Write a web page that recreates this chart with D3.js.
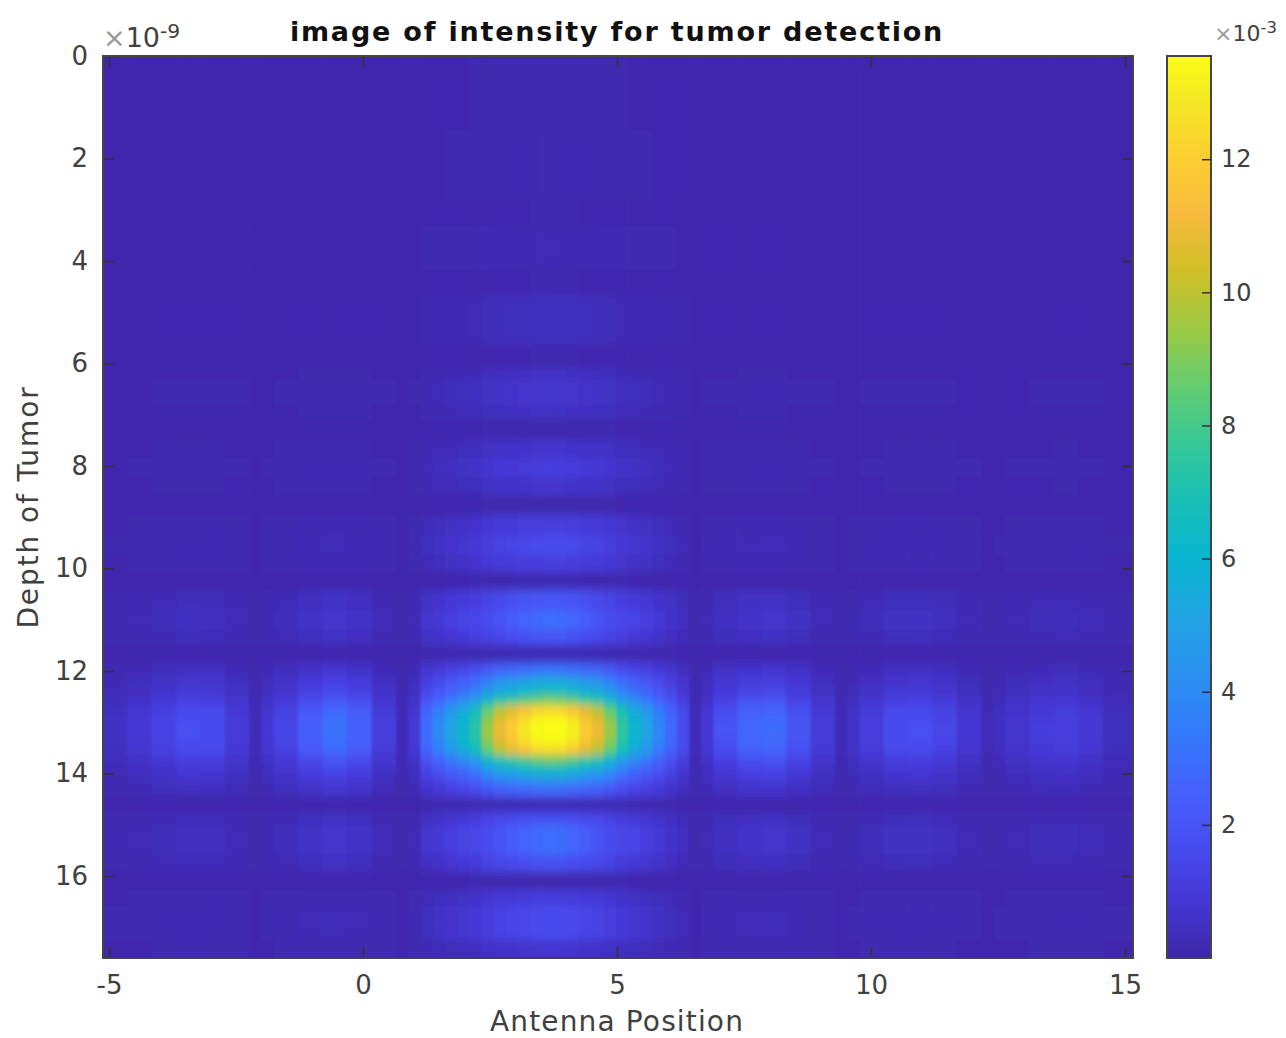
<!DOCTYPE html>
<html>
<head>
<meta charset="utf-8">
<script src="https://cdn.jsdelivr.net/npm/d3@7"></script>
<style>
  body { margin: 0; background: #fff; }
  text { font-family: "DejaVu Sans", sans-serif; fill: #404040; }
</style>
</head>
<body>
<div id="chart"></div>
<script>
// chart text and ticks
const titleText = 'image of intensity for tumor detection'
const xLabelText = 'Antenna Position'
const yLabelText = 'Depth of Tumor'
const xTicks = [-5, 0, 5, 10, 15]
const yTicks = [0, 2, 4, 6, 8, 10, 12, 14, 16]
const barTicks = [2, 4, 6, 8, 10, 12]

// cell edges, wide cells out on the sides and finer ones around the main spot
const antennaEdges = [-5.12, -4.64, -4.16, -3.68, -3.2, -2.72, -2.24, -2, -1.76, -1.28, -0.8, -0.32, 0.17, 0.65, 0.89,
  1.13, 1.37, 1.61, 1.85, 2.09, 2.33, 2.57, 2.81, 3.05, 3.29, 3.53, 3.77, 4.01, 4.25, 4.5, 4.74, 4.98, 5.22, 5.46, 5.7, 5.94, 6.18, 6.42, 6.66, 6.9,
  7.37, 7.85, 8.33, 8.81, 9.29, 9.53, 9.77, 10.25, 10.73, 11.21, 11.69, 12.17, 12.41, 12.65, 13.13, 13.61, 14.09, 14.57, 15.16]
const depthEdges = [0, 1.44, 2.81, 3.3, 4.18, 4.66, 5.64, 6.07, 6.32, 6.81, 7.1, 7.49, 7.84, 8.23, 8.57, 8.96, 9.35, 9.74, 10.07, 10.42, 10.81, 11.2, 11.49,
  11.84, 12.08, 12.27, 12.47, 12.66, 12.88, 13.03, 13.29, 13.44, 13.64, 13.83, 14.03, 14.22, 14.46, 14.75, 15, 15.59, 15.92, 16.27, 16.57, 17.25, 17.6]

// intensity (x 10^-3), one list per band of depth
const r01 = [.1, .1, .1, .1, .1, .1, .1, .1, .1, .1, .1, .1, .1, .1, .1, .11, .12, .12, .12, .13, .14, .14, .15, .15, .15, .15, .15, .15, .15, .14, .14, .13, .12, .12, .12, .11, .11, .1, .1, .1, .1, .1, .1, .1, .1, .1, .1, .1, .1, .1, .1, .1, .1, .1, .1, .1, .1, .1]
const r02 = [.1, .1, .1, .1, .1, .1, .1, .1, .1, .1, .1, .1, .1, .1, .1, .12, .12, .13, .14, .14, .16, .16, .17, .17, .18, .18, .18, .18, .17, .16, .16, .14, .14, .13, .12, .12, .11, .1, .1, .1, .1, .1, .1, .1, .1, .1, .1, .1, .1, .1, .1, .1, .1, .1, .1, .1, .1, .1]
const r03 = [.1, .1, .1, .1, .1, .1, .1, .1, .1, .1, .1, .1, .1, .1, .1, .11, .11, .11, .11, .11, .12, .12, .12, .12, .13, .13, .13, .13, .12, .12, .12, .11, .11, .11, .11, .11, .1, .1, .1, .1, .1, .1, .1, .1, .1, .1, .1, .1, .1, .1, .1, .1, .1, .1, .1, .1, .1, .1]
const r04 = [.1, .1, .1, .1, .1, .1, .1, .1, .1, .1, .11, .1, .1, .1, .11, .13, .15, .16, .17, .19, .21, .23, .24, .25, .26, .26, .26, .25, .24, .23, .21, .19, .17, .16, .15, .13, .12, .1, .11, .11, .11, .11, .1, .1, .1, .1, .1, .1, .1, .1, .1, .1, .1, .1, .1, .1, .1, .1]
const r06 = [.1, .1, .11, .11, .11, .11, .1, .1, .11, .11, .12, .11, .11, .1, .12, .17, .2, .23, .25, .28, .33, .37, .39, .41, .43, .44, .43, .42, .39, .37, .33, .29, .25, .23, .2, .17, .14, .11, .12, .11, .12, .12, .11, .1, .1, .1, .11, .11, .11, .11, .1, .1, .1, .1, .11, .11, .11, .1]
const r08 = [.1, .11, .12, .12, .12, .11, .1, .11, .12, .13, .14, .13, .11, .1, .12, .18, .22, .25, .28, .32, .38, .42, .45, .47, .49, .5, .5, .48, .45, .42, .38, .32, .28, .25, .21, .18, .15, .11, .12, .12, .13, .13, .12, .11, .1, .11, .12, .12, .12, .12, .11, .1, .1, .11, .12, .12, .11, .1]
const r09 = [.11, .12, .13, .15, .14, .13, .1, .12, .14, .16, .18, .16, .13, .1, .14, .24, .3, .35, .4, .46, .56, .64, .68, .72, .76, .78, .76, .73, .68, .64, .56, .47, .4, .35, .29, .24, .18, .11, .14, .15, .17, .18, .15, .13, .1, .12, .13, .15, .15, .14, .12, .1, .11, .12, .13, .14, .13, .11]
const r11 = [.1, .1, .1, .1, .1, .1, .1, .1, .1, .1, .1, .1, .1, .1, .1, .11, .11, .12, .12, .12, .13, .13, .13, .14, .14, .14, .14, .14, .13, .13, .13, .12, .12, .12, .11, .11, .1, .1, .1, .1, .1, .1, .1, .1, .1, .1, .1, .1, .1, .1, .1, .1, .1, .1, .1, .1, .1, .1]
const r12 = [.11, .12, .13, .14, .14, .12, .1, .12, .13, .15, .17, .15, .12, .1, .14, .23, .28, .32, .37, .42, .52, .59, .62, .66, .69, .71, .7, .67, .62, .59, .52, .43, .37, .32, .27, .22, .17, .11, .14, .14, .16, .16, .14, .12, .1, .11, .12, .14, .14, .13, .12, .1, .11, .12, .12, .13, .12, .11]
const r13 = [.12, .14, .16, .18, .18, .14, .11, .13, .16, .2, .23, .2, .14, .11, .16, .3, .38, .46, .53, .62, .77, .88, .94, 1, 1.04, 1.07, 1.06, 1.01, .94, .88, .77, .63, .53, .46, .37, .29, .22, .11, .16, .18, .21, .22, .18, .14, .11, .12, .15, .18, .18, .17, .13, .11, .12, .13, .15, .15, .14, .12]
const r16 = [.12, .14, .16, .18, .18, .14, .11, .14, .16, .21, .24, .21, .15, .11, .16, .32, .41, .5, .58, .68, .84, .96, 1, 1.1, 1.15, 1.18, 1.16, 1.1, 1, .96, .84, .69, .58, .5, .4, .32, .23, .12, .16, .18, .22, .23, .19, .14, .11, .13, .16, .19, .2, .18, .14, .11, .12, .14, .16, .16, .15, .12]
const r17 = [.13, .15, .18, .22, .21, .16, .11, .15, .19, .26, .31, .27, .17, .11, .19, .42, .55, .68, .79, .93, 1.1, 1.3, 1.4, 1.5, 1.6, 1.65, 1.63, 1.55, 1.4, 1.3, 1.1, .95, .79, .68, .54, .41, .28, .12, .19, .23, .28, .3, .23, .16, .11, .14, .18, .23, .24, .21, .15, .11, .13, .15, .18, .19, .17, .13]
const r20 = [.16, .22, .28, .36, .34, .24, .13, .2, .3, .45, .55, .46, .25, .13, .22, .52, .68, .85, 1, 1.15, 1.35, 1.55, 1.8, 1.9, 2, 2.1, 2.1, 1.95, 1.8, 1.55, 1.35, 1.15, 1, .85, .67, .5, .34, .13, .22, .37, .49, .52, .39, .24, .13, .19, .28, .39, .4, .34, .22, .13, .16, .22, .28, .3, .25, .16]
const r21 = [.18, .27, .35, .46, .44, .29, .14, .25, .37, .58, .73, .6, .31, .14, .27, .69, .92, 1.15, 1.35, 1.5, 1.7, 1.95, 2.3, 2.6, 2.8, 2.95, 2.9, 2.7, 2.35, 1.95, 1.7, 1.5, 1.35, 1.15, .9, .67, .44, .14, .27, .48, .65, .69, .5, .29, .14, .23, .35, .5, .52, .44, .27, .14, .18, .27, .35, .37, .31, .18]
const r22 = [.16, .21, .27, .34, .32, .23, .13, .2, .28, .42, .52, .44, .24, .13, .21, .49, .65, .8, .94, 1.1, 1.3, 1.5, 1.7, 1.8, 1.9, 2, 2, 1.85, 1.7, 1.5, 1.3, 1.1, .94, .8, .63, .48, .32, .13, .21, .35, .46, .49, .37, .23, .13, .18, .27, .37, .38, .32, .21, .13, .16, .21, .27, .28, .24, .16]
const r24 = [.19, .28, .36, .47, .45, .3, .14, .25, .39, .61, .76, .63, .32, .14, .28, .72, .96, 1.2, 1.4, 1.7, 2.1, 2.5, 2.65, 2.8, 3, 3.1, 3, 2.9, 2.65, 2.5, 2.1, 1.7, 1.4, 1.2, .94, .69, .45, .14, .28, .5, .67, .72, .52, .3, .14, .21, .32, .46, .48, .4, .25, .14, .17, .25, .32, .34, .28, .17]
const r25 = [.25, .4, .54, .73, .69, .43, .17, .36, .58, .95, 1.2, .99, .47, .17, .4, 1.1, 1.5, 1.95, 2.3, 2.75, 3.5, 4.1, 4.4, 4.7, 5, 5.1, 5, 4.8, 4.4, 4.1, 3.5, 2.8, 2.3, 1.95, 1.5, 1.1, .69, .17, .4, .77, 1.06, 1.1, .8, .43, .17, .28, .46, .68, .72, .6, .35, .17, .22, .34, .46, .5, .4, .22]
const r26 = [.29, .48, .66, .9, .85, .52, .19, .43, .71, 1.2, 1.5, 1.2, .57, .19, .48, 1.4, 1.9, 2.45, 2.9, 3.5, 4.5, 5.2, 5.55, 5.9, 6.3, 6.45, 6.35, 6, 5.55, 5.2, 4.5, 3.6, 2.9, 2.45, 1.9, 1.37, .85, .19, .48, .95, 1.3, 1.4, 1, .52, .19, .33, .56, .85, .9, .72, .42, .19, .26, .4, .55, .6, .48, .25]
const r27 = [.36, .62, .88, 1.2, 1.14, .69, .23, .56, .95, 1.6, 2, 1.66, .75, .23, .62, 1.9, 2.6, 3.35, 4, 4.8, 6.1, 7.1, 7.6, 8.2, 8.6, 8.9, 8.75, 8.3, 7.6, 7.1, 6.1, 4.9, 4, 3.35, 2.55, 1.86, 1.14, .23, .62, 1.27, 1.8, 1.9, 1.34, .69, .23, .42, .75, 1.13, 1.2, .97, .55, .23, .32, .52, .72, .78, .62, .3]
const r28 = [.45, .82, 1.2, 1.6, 1.55, .9, .28, .72, 1.28, 2.15, 2.8, 2.25, 1, .28, .82, 2.6, 3.6, 4.6, 5.5, 6.6, 8.5, 9.9, 10.7, 11.5, 12.2, 12.4, 12.3, 11.7, 10.7, 9.9, 8.5, 6.8, 5.5, 4.6, 3.5, 2.5, 1.55, .28, .82, 1.7, 2.45, 2.6, 1.8, .9, .28, .55, 1, 1.55, 1.62, 1.3, .72, .28, .4, .68, .95, 1.05, .82, .37]
const r29 = [.49, .88, 1.28, 1.75, 1.67, .98, .3, .78, 1.37, 2.35, 3.05, 2.45, 1.08, .3, .88, 2.85, 3.9, 5, 6, 7.15, 9.2, 10.7, 11.7, 12.6, 13.3, 13.55, 13.5, 12.9, 11.7, 10.7, 9.2, 7.35, 6, 5, 3.8, 2.75, 1.67, .3, .88, 1.85, 2.65, 2.85, 1.95, 1, .29, .6, 1.1, 1.65, 1.75, 1.4, .78, .29, .44, .73, 1.03, 1.13, .88, .4]
const r30 = [.5, .9, 1.3, 1.8, 1.7, 1, .3, .8, 1.4, 2.4, 3.1, 2.5, 1.1, .3, .9, 2.9, 4, 5.1, 6.1, 7.3, 9.4, 10.9, 11.9, 12.8, 13.5, 13.55, 13.55, 13.1, 11.9, 10.9, 9.4, 7.5, 6.1, 5.1, 3.9, 2.8, 1.7, .3, .9, 1.9, 2.7, 2.9, 2, 1, .3, .6, 1.1, 1.7, 1.8, 1.45, .8, .3, .45, .75, 1.05, 1.15, .9, .4]
const r35 = [.23, .36, .5, .66, .63, .4, .17, .33, .53, .86, 1.09, .89, .43, .17, .36, 1, 1.39, 1.75, 2.08, 2.48, 3.17, 3.66, 3.93, 4.19, 4.42, 4.56, 4.49, 4.26, 3.93, 3.66, 3.17, 2.54, 2.08, 1.75, 1.35, .99, .63, .17, .36, .69, .96, 1.02, .73, .4, .17, .26, .43, .62, .65, .54, .32, .17, .2, .32, .43, .46, .37, .2]
const r36 = [.18, .26, .34, .44, .42, .28, .14, .24, .36, .56, .7, .58, .3, .14, .26, .66, .88, 1.1, 1.3, 1.54, 1.96, 2.26, 2.42, 2.58, 2.72, 2.8, 2.76, 2.62, 2.42, 2.26, 1.96, 1.58, 1.3, 1.1, .86, .64, .42, .14, .26, .46, .62, .66, .48, .28, .14, .2, .3, .42, .44, .37, .24, .14, .17, .24, .3, .32, .27, .17]
const r38 = [.15, .2, .26, .32, .31, .22, .13, .19, .27, .4, .49, .41, .23, .13, .2, .46, .61, .75, .88, 1.03, 1.3, 1.5, 1.6, 1.7, 1.8, 1.85, 1.85, 1.7, 1.6, 1.5, 1.3, 1.03, .88, .75, .59, .45, .31, .13, .2, .33, .44, .46, .35, .22, .13, .18, .26, .35, .36, .31, .2, .13, .15, .2, .26, .27, .23, .15]

// top to bottom, bands that read the same share a list
const intensity = [r01, r02, r03, r04, r03, r06, r03, r08, r09, r08, r11, r12, r13, r12, r11, r16, r17, r16, r01, r20, r21, r22,
  r04, r24, r25, r26, r27, r28, r29, r30, r29, r28, r27, r26, r35, r36, r04, r38, r21, r38, r01, r13, r17, r09]

// parula, every 4th entry of the 64 colour map
const colorStops = ['#3E26A8', '#4537D5', '#474DF0', '#4563FD', '#327CFC', '#2B91EF', '#20A5E3', '#08B5D0', '#19BFB6', '#37C897', '#64CD6F', '#9DC943', '#D1BF27', '#F8BA3D', '#FCCF30', '#F5E924', '#F9FB15']
const stopIndex = [0, 4, 8, 12, 16, 20, 24, 28, 32, 36, 40, 44, 48, 52, 56, 60, 63]
const colorLimits = [0, 13.55]

const width = 1286
const height = 1038
const plot = { left: 103, right: 1133, top: 56, bottom: 958 }
const bar = { left: 1167, right: 1211 }

const x = d3.scaleLinear().domain([-5.118, 15.158]).range([plot.left, plot.right])
const y = d3.scaleLinear().domain([0, 17.6]).range([plot.top, plot.bottom])
const barY = d3.scaleLinear().domain(colorLimits).range([plot.bottom, plot.top])
const color = d3.scaleLinear()
  .domain(stopIndex.map(d => colorLimits[1] * d / 63))
  .range(colorStops)

const svg = d3.select('#chart')
  .append('svg')
  .attr('width', width)
  .attr('height', height)
  .style('display', 'block')

const defs = svg.append('defs')

defs.append('clipPath')
  .attr('id', 'plotClip')
  .append('rect')
  .attr('x', plot.left)
  .attr('y', plot.top)
  .attr('width', plot.right - plot.left)
  .attr('height', plot.bottom - plot.top)

// the reference is an upscaled raster, so the cell edges are soft
defs.append('filter')
  .attr('id', 'soften')
  .attr('filterUnits', 'userSpaceOnUse')
  .attr('x', 0)
  .attr('y', 0)
  .attr('width', width)
  .attr('height', height)
  .append('feGaussianBlur')
  .attr('stdDeviation', '1.6 4')

const gradient = defs.append('linearGradient')
  .attr('id', 'barGradient')
  .attr('x1', 0)
  .attr('y1', 1)
  .attr('x2', 0)
  .attr('y2', 0)
gradient.selectAll('stop')
  .data(colorStops)
  .join('stop')
  .attr('offset', (d, i) => stopIndex[i] / 63)
  .attr('stop-color', d => d)

// heat map
const cells = intensity.flatMap((row, j) => row.map((value, i) => ({ i, j, value })))

const image = svg.append('g').attr('clip-path', 'url(#plotClip)')
image.append('rect')
  .attr('x', plot.left)
  .attr('y', plot.top)
  .attr('width', plot.right - plot.left)
  .attr('height', plot.bottom - plot.top)
  .attr('fill', color(0.1))
image.append('g')
  .attr('filter', 'url(#soften)')
  .selectAll('rect')
  .data(cells)
  .join('rect')
  .attr('x', d => x(antennaEdges[d.i]))
  .attr('y', d => y(depthEdges[d.j]))
  .attr('width', d => x(antennaEdges[d.i + 1]) - x(antennaEdges[d.i]) + 0.5)
  .attr('height', d => y(depthEdges[d.j + 1]) - y(depthEdges[d.j]) + 0.5)
  .attr('fill', d => color(d.value))

// axes, MATLAB style with the ticks pointing inwards on all four sides
function styleAxis (g, fontSize) {
  g.select('.domain').remove()
  g.selectAll('line').attr('stroke', '#333').attr('stroke-width', 1.5)
  g.selectAll('text').style('font-size', fontSize + 'px')
}

svg.append('g')
  .attr('transform', `translate(0, ${plot.bottom})`)
  .call(d3.axisBottom(x).tickValues(xTicks).tickSize(-11).tickPadding(18).tickFormat(d => String(d)))
  .call(styleAxis, 26)

svg.append('g')
  .attr('transform', `translate(0, ${plot.top})`)
  .call(d3.axisTop(x).tickValues(xTicks).tickSize(-11).tickFormat(''))
  .call(styleAxis, 26)

svg.append('g')
  .attr('transform', `translate(${plot.left}, 0)`)
  .call(d3.axisLeft(y).tickValues(yTicks).tickSize(-11).tickPadding(15))
  .call(styleAxis, 26)

svg.append('g')
  .attr('transform', `translate(${plot.right}, 0)`)
  .call(d3.axisRight(y).tickValues(yTicks).tickSize(-11).tickFormat(''))
  .call(styleAxis, 26)

svg.append('rect')
  .attr('x', plot.left)
  .attr('y', plot.top)
  .attr('width', plot.right - plot.left)
  .attr('height', plot.bottom - plot.top)
  .attr('fill', 'none')
  .attr('stroke', '#444')
  .attr('stroke-width', 2)

// colour bar
svg.append('rect')
  .attr('x', bar.left)
  .attr('y', plot.top)
  .attr('width', bar.right - bar.left)
  .attr('height', plot.bottom - plot.top)
  .attr('fill', 'url(#barGradient)')
  .attr('stroke', '#444')
  .attr('stroke-width', 2)

svg.append('g')
  .attr('transform', `translate(${bar.right}, 0)`)
  .call(d3.axisRight(barY).tickValues(barTicks).tickSize(-9).tickPadding(10))
  .call(styleAxis, 24)

// titles
svg.append('text')
  .attr('x', 617)
  .attr('y', 41)
  .attr('text-anchor', 'middle')
  .style('font-size', '27px')
  .style('font-weight', 'bold')
  .style('letter-spacing', '1.8px')
  .style('fill', '#111')
  .text(titleText)

svg.append('text')
  .attr('x', 617)
  .attr('y', 1031)
  .attr('text-anchor', 'middle')
  .style('font-size', '28px')
  .style('letter-spacing', '1.15px')
  .text(xLabelText)

svg.append('text')
  .attr('transform', 'translate(38, 507) rotate(-90)')
  .attr('text-anchor', 'middle')
  .style('font-size', '28px')
  .style('letter-spacing', '1.9px')
  .text(yLabelText)

// exponents above the axes
function exponent (xPos, yPos, power, size) {
  const label = svg.append('text')
    .attr('x', xPos)
    .attr('y', yPos)
    .style('font-size', size + 'px')
  label.append('tspan').style('fill', '#999').text('×')
  label.append('tspan').text('10')
  label.append('tspan')
    .attr('dy', -size * 0.35)
    .style('font-size', (size * 0.75) + 'px')
    .text(power)
}

exponent(103, 47, '-9', 27)
exponent(1214, 41, '-3', 22)
</script>
</body>
</html>
